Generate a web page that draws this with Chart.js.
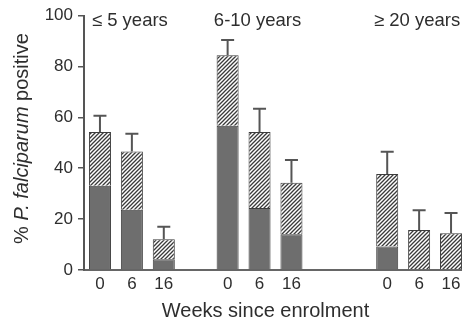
<!DOCTYPE html>
<html>
<head>
<meta charset="utf-8">
<script src="https://cdn.jsdelivr.net/npm/chart.js@4.4.1/dist/chart.umd.min.js"></script>
<style>
  html, body { margin: 0; padding: 0; background: #fff; overflow: hidden; }
  canvas { display: block; }
</style>
</head>
<body>
<canvas id="chart" width="467" height="322" style="width:467px;height:322px"></canvas>
<script>
// Age groups and follow-up visits (weeks since enrolment)
const ageGroups = ['\u2264 5 years', '6-10 years', '\u2265 20 years'];
const weeks = ['0', '6', '16'];
// empty category slots placed before each age group on the x axis
const gapSlotsBefore = [0, 1, 2];

// % positive, lower (solid) part of each bar
const solidPct = [
  [33.1, 23.7, 4.2],
  [56.7, 24.4, 14.0],
  [9.2, 0, 0]
];
// % positive, upper (hatched) part of each bar
const hatchedPct = [
  [21.1, 22.9, 7.9],
  [27.7, 29.8, 20.3],
  [28.5, 15.7, 14.4]
];
// upper error bar length above each bar total
const upperErr = [
  [6.4, 6.9, 4.9],
  [6.0, 9.2, 8.9],
  [8.8, 7.8, 8.0]
];
const yTickValues = [0, 20, 40, 60, 80, 100];

// Flatten groups into category slots (with blank spacer slots)
const xLabels = [], solidData = [], hatchedData = [], errData = [], groupMidSlot = [];
ageGroups.forEach((g, gi) => {
  for (let k = 0; k < gapSlotsBefore[gi]; k++) {
    xLabels.push(''); solidData.push(null); hatchedData.push(null); errData.push(null);
  }
  weeks.forEach((w, wi) => {
    if (wi === 1) groupMidSlot.push(xLabels.length);
    xLabels.push(w);
    solidData.push(solidPct[gi][wi]);
    hatchedData.push(hatchedPct[gi][wi]);
    errData.push(upperErr[gi][wi]);
  });
});

const FONT = "'Liberation Sans', Arial, Helvetica, sans-serif";
const INK = '#2e2e2e';
const EDGE = '#3c3c3c';

// Diagonal hatch fill
function makeHatch() {
  const s = 4;
  const c = document.createElement('canvas');
  c.width = s; c.height = s;
  const g = c.getContext('2d');
  g.fillStyle = '#ffffff';
  g.fillRect(0, 0, s, s);
  g.strokeStyle = '#3a3a3a';
  g.lineWidth = 1.3;
  g.beginPath();
  g.moveTo(-1, s + 1); g.lineTo(s + 1, -1);
  g.moveTo(-1, 1); g.lineTo(1, -1);
  g.moveTo(s - 1, s + 1); g.lineTo(s + 1, s - 1);
  g.stroke();
  return g.createPattern(c, 'repeat');
}
const ctx0 = document.getElementById('chart').getContext('2d');
const hatch = makeHatch();

// Upper error bars with caps
const errorBars = {
  id: 'errorBars',
  afterDatasetsDraw(chart) {
    const { ctx, scales: { y } } = chart;
    const meta = chart.getDatasetMeta(1);
    ctx.save();
    ctx.strokeStyle = '#555';
    ctx.lineWidth = 2;
    errData.forEach((e, i) => {
      if (e == null) return;
      const bar = meta.data[i];
      const total = solidData[i] + hatchedData[i];
      const yTop = y.getPixelForValue(total);
      const yErr = y.getPixelForValue(total + e);
      ctx.beginPath();
      ctx.moveTo(bar.x, yTop);
      ctx.lineTo(bar.x, yErr);
      ctx.moveTo(bar.x - 6.5, yErr);
      ctx.lineTo(bar.x + 6.5, yErr);
      ctx.stroke();
    });
    ctx.restore();
  }
};

// Age group headings, axis titles
const annotations = {
  id: 'annotations',
  afterDraw(chart) {
    const { ctx, scales: { x } } = chart;
    ctx.save();
    ctx.fillStyle = INK;
    ctx.textBaseline = 'alphabetic';
    ctx.textAlign = 'center';
    ctx.font = '18.5px ' + FONT;
    ageGroups.forEach((g, gi) => {
      ctx.fillText(g, x.getPixelForValue(groupMidSlot[gi]) - 2, 25.5);
    });

    ctx.font = '20px ' + FONT;
    ctx.fillText('Weeks since enrolment', 265.5, 317);

    // y title with italic species name
    const parts = [
      { t: '% ', f: '20px ' + FONT },
      { t: 'P. falciparum', f: 'italic 20px ' + FONT },
      { t: ' positive', f: '20px ' + FONT }
    ];
    let total = 0;
    parts.forEach(p => { ctx.font = p.f; p.w = ctx.measureText(p.t).width; total += p.w; });
    ctx.translate(27.5, 138.5);
    ctx.rotate(-Math.PI / 2);
    ctx.textAlign = 'left';
    let px = -total / 2;
    parts.forEach(p => { ctx.font = p.f; ctx.fillText(p.t, px, 0); px += p.w; });
    ctx.restore();
  }
};

new Chart(ctx0, {
  type: 'bar',
  data: {
    labels: xLabels,
    datasets: [
      {
        label: 'solid',
        data: solidData,
        backgroundColor: '#6e6e6e',
        borderColor: EDGE,
        borderWidth: 1,
        barPercentage: 0.69,
        categoryPercentage: 1
      },
      {
        label: 'hatched',
        data: hatchedData,
        backgroundColor: hatch,
        borderColor: EDGE,
        borderWidth: 1,
        barPercentage: 0.69,
        categoryPercentage: 1
      }
    ]
  },
  options: {
    responsive: false,
    animation: false,
    devicePixelRatio: 1,
    layout: { padding: { top: 15.5, right: 0, bottom: 0, left: 0 } },
    plugins: { legend: { display: false }, tooltip: { enabled: false } },
    scales: {
      x: {
        stacked: true,
        offset: true,
        grid: { display: false, drawTicks: false },
        border: { display: true, color: '#666', width: 2 },
        ticks: { color: INK, font: { family: FONT, size: 17 }, padding: 4, maxRotation: 0, autoSkip: false },
        afterFit(s) { s.height = 52; }
      },
      y: {
        stacked: true,
        min: 0,
        max: 100,
        afterBuildTicks(s) { s.ticks = yTickValues.map(v => ({ value: v })); },
        grid: { display: true, drawOnChartArea: false, drawTicks: true, tickLength: 6, color: '#555', lineWidth: 1.5 },
        border: { display: true, color: '#555', width: 2 },
        ticks: { color: INK, font: { family: FONT, size: 17 }, padding: 5 },
        afterFit(s) { s.width = 84; }
      }
    }
  },
  plugins: [errorBars, annotations]
});
</script>
</body>
</html>
